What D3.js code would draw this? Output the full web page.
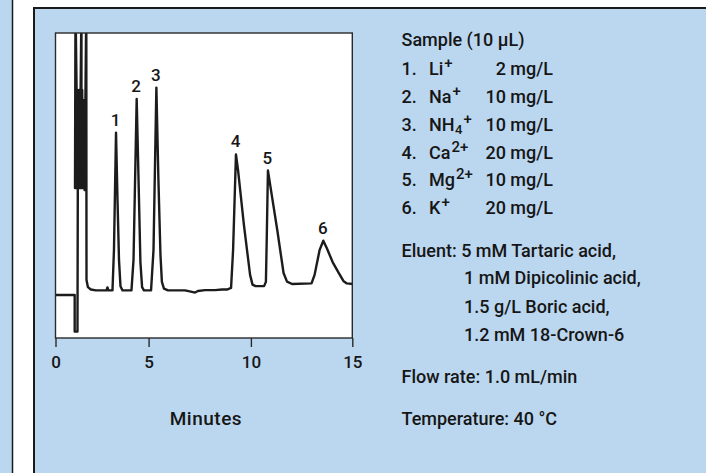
<!DOCTYPE html>
<html>
<head>
<meta charset="utf-8">
<script src="https://cdn.jsdelivr.net/npm/d3@7/dist/d3.min.js"></script>
<style>
  html, body { margin: 0; padding: 0; background: #ffffff; }
  svg { display: block; }
  text { font-family: Roboto, "Noto Sans", sans-serif; fill: #161616; font-weight: 500; }
</style>
</head>
<body>
<svg id="chart" width="706" height="473"></svg>
<script>
// ---- data ----
// retention time (minutes) and detector signal (% of full scale)
const traceTime = [0, 1.03, 1.03, 1.18, 1.198, 1.074, 1.047, 1.090, 1.133, 1.176, 1.219, 1.262, 1.305, 1.348, 1.396, 1.391, 1.434, 1.477, 1.520, 1.563, 1.654, 1.665, 1.74, 1.90, 2.17, 2.74, 2.79, 2.84, 3.06,
  3.14, 3.25, 3.33, 3.41, 3.49, 3.60, 4.08,
  4.19, 4.36, 4.46, 4.56, 4.65, 4.75, 5.12,
  5.24, 5.38, 5.48, 5.58, 5.65, 5.75, 5.95,
  6.78, 7.12, 7.27, 7.41, 7.76, 8.25, 8.59, 8.83, 9.03,
  9.13, 9.27, 9.37, 9.66, 9.96, 10.08, 10.23, 10.65, 10.74,
  10.78, 10.84, 10.95, 11.30, 11.61, 11.78, 12.03, 12.99,
  13.14, 13.39, 13.57, 13.74, 14.03, 14.35, 14.56, 14.73, 15.03];
const traceSignal = [14.1, 14.1, 2.1, 2.1, 49.2, 110, 49.2, 81.3, 49.2, 81.3, 49.2, 81.3, 49.2, 81.3, 110, 49.2, 81.3, 49.2, 78.0, 48.5, 110, 19.0, 16.7, 15.9, 15.6, 15.6, 16.6, 15.6, 15.6,
  28.9, 67.3, 45.2, 25.6, 17.0, 15.6, 15.6,
  25.6, 78.4, 51.8, 24.9, 16.7, 15.6, 15.6,
  28.9, 82.1, 51.8, 27.2, 18.4, 16.2, 15.6,
  15.6, 15.1, 14.9, 15.4, 15.7, 15.7, 15.9, 15.9, 16.4,
  28.9, 60.2, 55.1, 37.0, 20.7, 17.5, 17.0, 17.0, 18.4,
  32.1, 54.9, 50.2, 35.4, 21.3, 18.5, 17.7, 17.9,
  20.7, 28.9, 31.9, 29.5, 24.9, 21.1, 18.7, 17.9, 17.7];

const peakLabels = ["1", "2", "3", "4", "5", "6"];
const peakTime = [3.25, 4.36, 5.38, 9.27, 10.84, 13.57];
const peakSignal = [67.3, 78.4, 82.1, 60.2, 54.9, 31.9];

const xTicks = [0, 5, 10, 15];
const xLabel = "Minutes";

const sampleTitle = "Sample (10 µL)";
const ionNum = ["1.", "2.", "3.", "4.", "5.", "6."];
const ionBase = ["Li", "Na", "NH", "Ca", "Mg", "K"];
const ionSub = ["", "", "4", "", "", ""];
const ionSup = ["+", "+", "+", "2+", "2+", "+"];
const ionConc = ["2 mg/L", "10 mg/L", "10 mg/L", "20 mg/L", "10 mg/L", "20 mg/L"];

const eluentLines = ["Eluent: 5 mM Tartaric acid,", "1 mM Dipicolinic acid,", "1.5 g/L Boric acid,", "1.2 mM 18-Crown-6"];
const flowText = "Flow rate: 1.0 mL/min";
const tempText = "Temperature: 40 °C";

// ---- drawing ----
const svg = d3.select("#chart");
const blue = "#bbd7f0";
const ink = "#1a1a1a";

// left partial panel and main panel
svg.append("rect").attr("x", -3).attr("y", -3).attr("width", 15.5).attr("height", 480)
  .attr("fill", blue).attr("stroke", ink).attr("stroke-width", 1.5);
svg.append("rect").attr("x", 34).attr("y", 8).attr("width", 690).attr("height", 480)
  .attr("fill", blue).attr("stroke", ink).attr("stroke-width", 2);

const x = d3.scaleLinear().domain([0, 5, 10, 15]).range([55.5, 148.6, 250.9, 352.3]);
const y = d3.scaleLinear().domain([0, 100]).range([338, 33]);

const x0 = x(0), x1 = x(15), yTop = y(100), yBot = y(0);

// plot box
svg.append("rect").attr("x", x0).attr("y", yTop).attr("width", x1 - x0).attr("height", yBot - yTop)
  .attr("fill", "#ffffff");

svg.append("clipPath").attr("id", "clip").append("rect")
  .attr("x", x0).attr("y", yTop).attr("width", x1 - x0).attr("height", yBot - yTop);

const pts = traceTime.map((t, i) => [t, traceSignal[i]]);
const line = d3.line().x(d => x(d[0])).y(d => y(d[1]));
svg.append("path").attr("d", line(pts)).attr("clip-path", "url(#clip)")
  .attr("fill", "none").attr("stroke", "#1c1c1c").attr("stroke-width", 2.4)
  .attr("stroke-linejoin", "round").attr("stroke-linecap", "round");

svg.append("rect").attr("x", x0).attr("y", yTop).attr("width", x1 - x0).attr("height", yBot - yTop)
  .attr("fill", "none").attr("stroke", "#2a2a2a").attr("stroke-width", 1.4);

// x axis
const axis = d3.axisBottom(x).tickValues(xTicks).tickSize(9).tickPadding(6).tickFormat(d3.format("d"));
const gAxis = svg.append("g").attr("transform", `translate(0,${yBot})`).call(axis);
gAxis.select(".domain").remove();
gAxis.selectAll(".tick line").attr("stroke", "#2a2a2a").attr("stroke-width", 1.4);
gAxis.selectAll(".tick text").attr("font-family", "Roboto, sans-serif").attr("font-size", 17)
  .attr("font-weight", 500).attr("fill", ink).attr("dy", "0.9em");

svg.append("text").attr("x", (x0 + x1) / 2 + 2).attr("y", 425).attr("text-anchor", "middle")
  .attr("font-size", 19).attr("letter-spacing", 0.5).text(xLabel);

// peak labels
svg.selectAll(".plabel").data(peakLabels).enter().append("text")
  .attr("class", "plabel")
  .attr("x", (d, i) => x(peakTime[i]) - 0.5)
  .attr("y", (d, i) => y(peakSignal[i]) - 7)
  .attr("text-anchor", "middle").attr("font-size", 17).text(d => d);

// right-hand text block
const tx = 401.5, fs = 18;
svg.append("text").attr("x", tx).attr("y", 46).attr("font-size", fs).text(sampleTitle);

const rowY = [75, 102.5, 130.5, 158.5, 186, 214];
ionNum.forEach((n, i) => {
  svg.append("text").attr("x", tx).attr("y", rowY[i]).attr("font-size", fs).text(n);
  const t = svg.append("text").attr("x", 429).attr("y", rowY[i]).attr("font-size", fs);
  t.append("tspan").text(ionBase[i]);
  if (ionSub[i]) t.append("tspan").attr("dy", 3).attr("dx", 0.5).attr("font-size", 13).text(ionSub[i]);
  t.append("tspan").attr("dy", ionSub[i] ? -10 : -7).attr("dx", 1).attr("font-size", 15).text(ionSup[i]);
  svg.append("text").attr("x", 553).attr("y", rowY[i]).attr("text-anchor", "end").attr("font-size", fs).text(ionConc[i]);
});

const eluY = [256.5, 284, 312.5, 340.5];
eluentLines.forEach((s, i) => {
  svg.append("text").attr("x", i === 0 ? tx : 464).attr("y", eluY[i]).attr("font-size", fs).text(s);
});
svg.append("text").attr("x", tx).attr("y", 383).attr("font-size", fs).text(flowText);
svg.append("text").attr("x", tx).attr("y", 425).attr("font-size", fs).text(tempText);
</script>
</body>
</html>
